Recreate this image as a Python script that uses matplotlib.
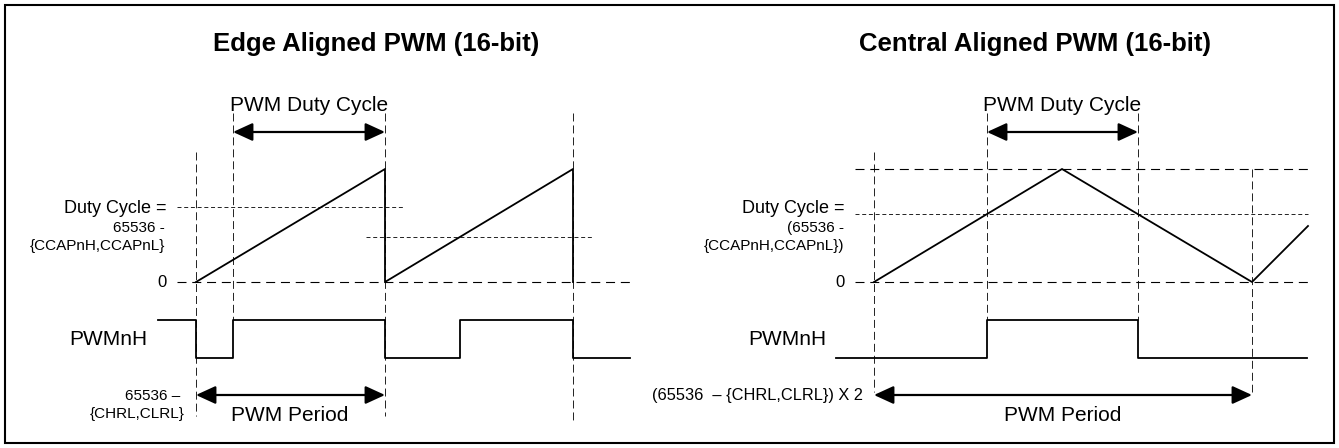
"""Edge vs. central aligned 16-bit PWM timing diagram."""
import matplotlib
matplotlib.use("Agg")
import matplotlib.pyplot as plt
from matplotlib.patches import Rectangle

plt.rcParams["font.family"] = ["Liberation Sans", "DejaVu Sans"]

W, H = 1339, 448

# Signal levels (pixel rows of the drawing)
ZERO, TOP = 282, 169          # counter range
PWM_HI, PWM_LO = 320, 358     # output levels

# --- Edge aligned panel ---
edge_counter_x = [196, 385, 385, 573, 573]
edge_counter_y = [ZERO, TOP, ZERO, TOP, ZERO]
edge_pwm_x = [158, 196, 233, 385, 460, 573, 630]
edge_pwm_y = [PWM_HI, PWM_LO, PWM_HI, PWM_LO, PWM_HI, PWM_LO, PWM_LO]
edge_markers = [(196, 152, 416), (233, 113, 320), (385, 113, 416), (573, 113, 422)]
edge_zero = (177, 630)
edge_compare = [(207, 177, 403), (237, 366, 592)]
edge_duty = (233, 385)
edge_period = (196, 385)

# --- Central aligned panel ---
center_counter_x = [874, 1062, 1252, 1308]
center_counter_y = [ZERO, TOP, ZERO, 226]
center_pwm_x = [836, 987, 1138, 1307]
center_pwm_y = [PWM_LO, PWM_HI, PWM_LO, PWM_LO]
center_markers = [(874, 152, 392), (987, 113, 320), (1138, 113, 320), (1252, 169, 392)]
center_zero = (855, 1308)
center_top = (855, 1308)
center_compare = [(214, 855, 1308)]
center_duty = (987, 1138)
center_period = (874, 1252)

fig = plt.figure(figsize=(W / 100, H / 100), dpi=100)
ax = fig.add_axes([0, 0, 1, 1])
ax.set_xlim(0, W)
ax.set_ylim(H, 0)
ax.axis("off")

ax.add_patch(Rectangle((5, 5), 1329, 438, fill=False, lw=1.5, ec="black"))

LONG = (0, (8.1, 5.2))
SHORT = (0, (4.1, 2.8))
VERT = (0, (8.2, 4.1))


def arrow(x0, x1, y):
    ax.annotate("", xy=(x1, y), xytext=(x0, y),
                arrowprops=dict(arrowstyle="<|-|>,head_length=1.2,head_width=0.55",
                                mutation_scale=10, lw=1.6, color="black",
                                shrinkA=0, shrinkB=0))


def panel(counter_x, counter_y, pwm_x, pwm_y, markers, zero, compare,
          duty, period):
    for x, y0, y1 in markers:
        ax.plot([x, x], [y0, y1], color="#222222", lw=0.7, ls=VERT)
    ax.plot(zero, [ZERO, ZERO], color="black", lw=0.8, ls=LONG)
    for y, x0, x1 in compare:
        ax.plot([x0, x1], [y, y], color="#222222", lw=0.7, ls=SHORT)
    ax.plot(counter_x, counter_y, color="black", lw=1.3)
    ax.plot(pwm_x, pwm_y, color="black", lw=1.3, drawstyle="steps-post")
    arrow(duty[0], duty[1], 132)
    arrow(period[0], period[1], 395)


panel(edge_counter_x, edge_counter_y, edge_pwm_x, edge_pwm_y, edge_markers,
      edge_zero, edge_compare, edge_duty, edge_period)
panel(center_counter_x, center_counter_y, center_pwm_x, center_pwm_y,
      center_markers, center_zero, center_compare, center_duty, center_period)
ax.plot(center_top, [TOP, TOP], color="black", lw=0.8, ls=LONG)

# Titles
ax.text(376, 51, "Edge Aligned PWM (16-bit)", ha="center", va="baseline",
        fontsize=18.5, fontweight="bold")
ax.text(1035, 51, "Central Aligned PWM (16-bit)", ha="center", va="baseline",
        fontsize=18.5, fontweight="bold")

# Edge aligned labels
ax.text(309, 111, "PWM Duty Cycle", ha="center", va="baseline", fontsize=15)
ax.text(290, 421, "PWM Period", ha="center", va="baseline", fontsize=15)
ax.text(147, 345, "PWMnH", ha="right", va="baseline", fontsize=15)
ax.text(166, 213, "Duty Cycle =", ha="right", va="baseline", fontsize=13)
ax.text(165, 232, "65536 -", ha="right", va="baseline", fontsize=11)
ax.text(165, 250, "{CCAPnH,CCAPnL}", ha="right", va="baseline", fontsize=11)
ax.text(167, 287, "0", ha="right", va="baseline", fontsize=12)
ax.text(180, 400, "65536 \u2013", ha="right", va="baseline", fontsize=11)
ax.text(185, 418, "{CHRL,CLRL}", ha="right", va="baseline", fontsize=11)

# Central aligned labels
ax.text(1062, 111, "PWM Duty Cycle", ha="center", va="baseline", fontsize=15)
ax.text(1063, 421, "PWM Period", ha="center", va="baseline", fontsize=15)
ax.text(826, 345, "PWMnH", ha="right", va="baseline", fontsize=15)
ax.text(845, 213, "Duty Cycle =", ha="right", va="baseline", fontsize=13)
ax.text(844, 232, "(65536 -", ha="right", va="baseline", fontsize=11)
ax.text(844, 250, "{CCAPnH,CCAPnL})", ha="right", va="baseline", fontsize=11)
ax.text(845, 287, "0", ha="right", va="baseline", fontsize=12)
ax.text(863, 400, "(65536  \u2013 {CHRL,CLRL}) X 2", ha="right", va="baseline",
        fontsize=11.8)

fig.savefig("out.png", dpi=100)
